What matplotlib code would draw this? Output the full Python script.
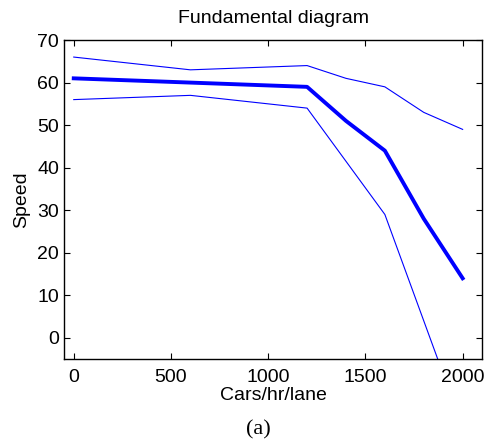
import numpy as np
import matplotlib.pyplot as plt

plt.rcParams['font.family'] = ['Liberation Sans', 'DejaVu Sans']

flujo = [0, 600, 1200, 1400, 1600, 1800, 2000]  # cars/hr/lane
velocidad_media = [61, 60, 59, 51, 44, 28, 14]
velocidad_alta = [66, 63, 64, 61, 59, 53, 49]
velocidad_baja = [56, 57, 54, 41.5, 29, 4, -21]

fig = plt.figure(figsize=(4.85, 4.45), dpi=100)
ax = fig.add_axes([0.132, 0.193, 0.862, 0.717])

ax.plot(flujo, velocidad_alta, color='#0000ff', linewidth=0.8)
ax.plot(flujo, velocidad_media, color='#0000ff', linewidth=2.8)
ax.plot(flujo, velocidad_baja, color='#0000ff', linewidth=0.8)

ax.set_xlim(-50, 2100)
ax.set_ylim(-5, 70)
ax.set_xticks([0, 500, 1000, 1500, 2000])
ax.set_yticks([0, 10, 20, 30, 40, 50, 60, 70])
ax.tick_params(direction='in', top=True, right=True, length=4, labelsize=14, width=0.8)
ax.tick_params(axis='x', pad=7)
for s in ax.spines.values():
    s.set_linewidth(1.0)

ax.set_xlabel("Cars/hr/lane", fontsize=14, labelpad=1)
ax.set_ylabel("Speed", fontsize=14, labelpad=5)
ax.set_title("Fundamental diagram", fontsize=14, pad=12)

fig.text(0.532, 0.034, "(a)", ha='center', va='center', fontsize=16, family='Liberation Serif')

fig.savefig("out.png", dpi=100)
